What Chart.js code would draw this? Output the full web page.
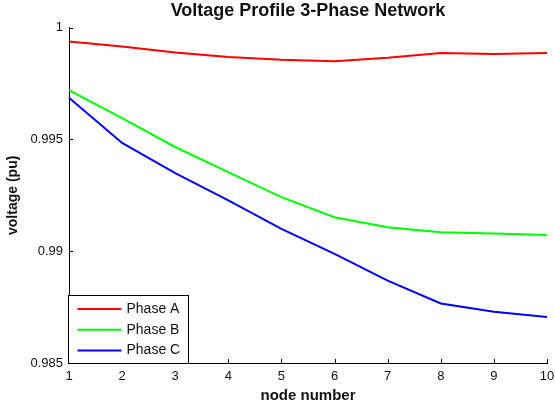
<!DOCTYPE html>
<html>
<head>
<meta charset="utf-8">
<script src="https://cdn.jsdelivr.net/npm/chart.js@4/dist/chart.umd.min.js"></script>
<style>
  html, body { margin: 0; padding: 0; background: #fff; }
  #wrap { width: 555px; height: 407px; }
</style>
</head>
<body>
<div id="wrap"><canvas id="voltageChart" width="555" height="407"></canvas></div>
<script>
// node numbers along the feeder
const nodes = ['1', '2', '3', '4', '5', '6', '7', '8', '9', '10'];

// per-unit voltages
const phaseA = [0.99938, 0.99916, 0.99889, 0.99868, 0.99856, 0.99850, 0.99865, 0.99886, 0.99882, 0.99886];
const phaseB = [0.99720, 0.99595, 0.99466, 0.99354, 0.99242, 0.99152, 0.99107, 0.99085, 0.99079, 0.99073];
const phaseC = [0.99686, 0.99484, 0.99349, 0.99227, 0.99100, 0.98988, 0.98868, 0.98766, 0.98729, 0.98706];

const seriesNames = ['Phase A', 'Phase B', 'Phase C'];
const seriesColors = ['#ff0000', '#00ff00', '#0000ff'];

const yMin = 0.985;
const yMax = 1;
const yStep = 0.005;

const fontFamily = '"Liberation Sans", Arial, Helvetica, sans-serif';

// matlab style ticks pointing into the plot
const inwardTicks = {
    id: 'inwardTicks',
    afterDraw(chart) {
        const ctx = chart.ctx;
        const area = chart.chartArea;
        const xScale = chart.scales.x;
        const yScale = chart.scales.y;
        const len = 4;
        ctx.save();
        ctx.strokeStyle = '#000';
        ctx.lineWidth = 1;
        ctx.beginPath();
        xScale.ticks.forEach((t, i) => {
            const px = Math.round(xScale.getPixelForTick(i)) + 0.5;
            ctx.moveTo(px, area.bottom);
            ctx.lineTo(px, area.bottom - len);
        });
        yScale.ticks.forEach((t, i) => {
            const py = Math.round(yScale.getPixelForTick(i)) + 0.5;
            ctx.moveTo(area.left, py);
            ctx.lineTo(area.left + len, py);
        });
        ctx.stroke();
        ctx.restore();
    }
};

// legend box sitting inside the lower left corner of the axes
const boxLegend = {
    id: 'boxLegend',
    afterDraw(chart) {
        const ctx = chart.ctx;
        const area = chart.chartArea;
        const rowH = 20.8;
        const w = 120;
        const h = 68;
        const x0 = Math.round(area.left) - 0.5;
        const y0 = Math.round(area.bottom) - h + 0.5;
        ctx.save();
        ctx.fillStyle = '#fff';
        ctx.fillRect(x0, y0, w, h);
        ctx.strokeStyle = '#000';
        ctx.lineWidth = 1;
        ctx.strokeRect(x0, y0, w, h);
        ctx.font = '14px ' + fontFamily;
        ctx.textBaseline = 'middle';
        ctx.textAlign = 'left';
        chart.data.datasets.forEach((ds, i) => {
            const cy = y0 + 13.5 + i * rowH;
            ctx.strokeStyle = ds.borderColor;
            ctx.lineWidth = 2;
            ctx.beginPath();
            ctx.moveTo(x0 + 9, cy);
            ctx.lineTo(x0 + 53, cy);
            ctx.stroke();
            ctx.fillStyle = '#111';
            ctx.fillText(ds.label, x0 + 58, cy);
        });
        ctx.restore();
    }
};

const datasets = [phaseA, phaseB, phaseC].map((vals, i) => ({
    label: seriesNames[i],
    data: vals,
    borderColor: seriesColors[i],
    backgroundColor: seriesColors[i],
    borderWidth: 2,
    pointRadius: 0,
    tension: 0,
    fill: false
}));

new Chart(document.getElementById('voltageChart'), {
    type: 'line',
    data: { labels: nodes, datasets: datasets },
    options: {
        responsive: false,
        animation: false,
        layout: { padding: 0 },
        plugins: {
            legend: { display: false },
            tooltip: { enabled: false },
            title: {
                display: true,
                text: 'Voltage Profile 3-Phase Network',
                fullSize: false,
                color: '#111',
                font: { family: fontFamily, size: 18, weight: 'bold', lineHeight: 1.2 },
                padding: { top: 0, bottom: 6 }
            }
        },
        scales: {
            x: {
                type: 'category',
                offset: false,
                grid: { display: false, drawTicks: false },
                border: { display: true, color: '#000', width: 1 },
                ticks: {
                    color: '#111',
                    padding: 6,
                    maxRotation: 0,
                    autoSkip: false,
                    font: { family: fontFamily, size: 13 }
                },
                title: {
                    display: true,
                    text: 'node number',
                    color: '#111',
                    font: { family: fontFamily, size: 15, weight: 'bold', lineHeight: 1.2 },
                    padding: { top: 0, bottom: 2 }
                },
                afterFit(scale) {
                    scale.height = 44;
                    scale.paddingLeft = 0;
                    scale.paddingRight = 8;
                }
            },
            y: {
                min: yMin,
                max: yMax,
                grid: { display: false, drawTicks: false },
                border: { display: true, color: '#000', width: 1 },
                ticks: {
                    stepSize: yStep,
                    color: '#111',
                    padding: 6,
                    font: { family: fontFamily, size: 13 },
                    callback: v => String(+v.toFixed(3))
                },
                title: {
                    display: true,
                    text: 'voltage (pu)',
                    color: '#111',
                    font: { family: fontFamily, size: 14, weight: 'bold', lineHeight: 1.2 },
                    padding: { top: 5, bottom: 0 }
                },
                afterFit(scale) { scale.width = 69; }
            }
        }
    },
    plugins: [inwardTicks, boxLegend]
});
</script>
</body>
</html>
